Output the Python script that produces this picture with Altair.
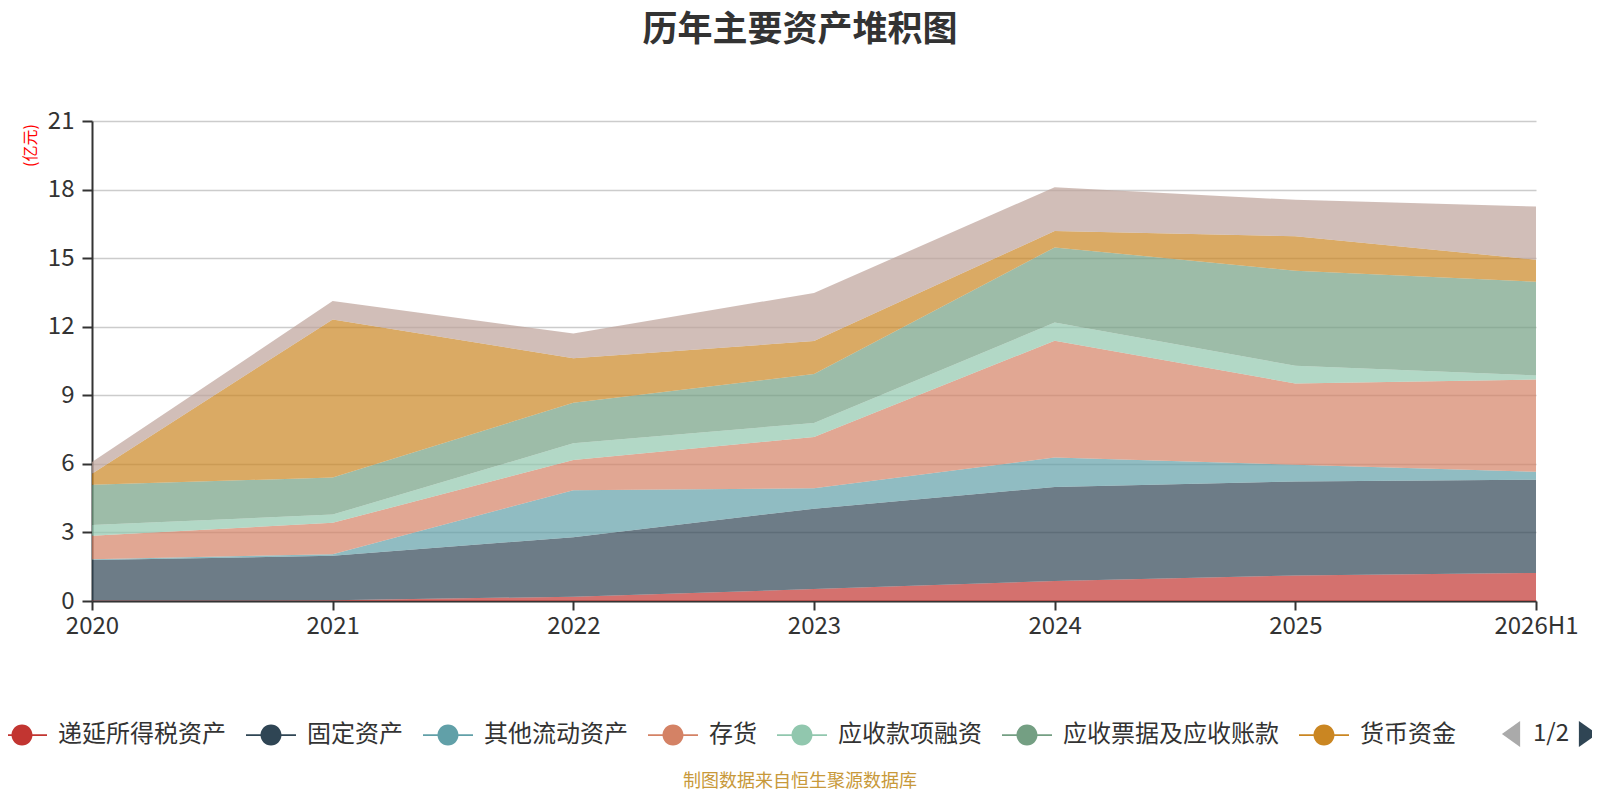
import altair as alt
import pandas as pd

years = ["2020", "2021", "2022", "2023", "2024", "2025", "2026H1"]
names = ["递延所得税资产", "固定资产", "其他流动资产", "存货", "应收款项融资",
         "应收票据及应收账款", "货币资金", "其他"]
colors = ["#c23531", "#2f4554", "#61a0a8", "#d48265", "#91c7ae",
          "#749f83", "#ca8622", "#bda29a"]

deferred_tax = [0.02, 0.03, 0.19, 0.52, 0.88, 1.12, 1.23]
fixed_assets = [1.77, 1.95, 2.60, 3.52, 4.11, 4.11, 4.08]
other_current = [0.04, 0.07, 2.06, 0.89, 1.29, 0.73, 0.34]
inventory = [1.03, 1.37, 1.32, 2.24, 5.11, 3.56, 4.04]
receivable_fin = [0.47, 0.36, 0.73, 0.62, 0.79, 0.77, 0.18]
notes_accounts = [1.76, 1.62, 1.77, 2.14, 3.29, 4.16, 4.10]
cash = [0.48, 6.92, 1.95, 1.44, 0.72, 1.51, 0.96]
others = [0.51, 0.80, 1.08, 2.11, 1.91, 1.59, 2.33]

series = [deferred_tax, fixed_assets, other_current, inventory,
          receivable_fin, notes_accounts, cash, others]

y_ticks = [0, 3, 6, 9, 12, 15, 18, 21]
title_text = "历年主要资产堆积图"
unit_text = "(亿元)"
source_text = "制图数据来自恒生聚源数据库"
pager_text = "1/2"

rows = []
for i, (n, vals) in enumerate(zip(names, series)):
    for yr, v in zip(years, vals):
        rows.append({"name": n, "year": yr, "value": v, "idx": i})
df = pd.DataFrame(rows)

FONT = "Noto Sans CJK SC"
W, H = 1444, 480
LEFT, TOP = 84, 113
RIGHT = 1584 - LEFT - W
BOTTOM = 784 - TOP - H

legend_symbol = ("M-1,-0.035H1V0.035H-1Z "
                 "M-0.42,0A0.42,0.42,0,1,1,0.42,0A0.42,0.42,0,1,1,-0.42,0Z")

area = alt.Chart(df).mark_area(opacity=0.7, interpolate="linear").encode(
    x=alt.X("year:N", sort=years,
            scale=alt.Scale(type="point", padding=0),
            axis=alt.Axis(title=None, labelAngle=0, labelFontSize=24,
                          labelColor="#333", labelFont=FONT,
                          tickSize=9, tickColor="#333", tickWidth=2,
                          labelPadding=4, domainColor="#333",
                          domainWidth=2, grid=False)),
    y=alt.Y("value:Q", stack="zero",
            scale=alt.Scale(domain=[0, 21], nice=False),
            axis=alt.Axis(values=y_ticks, title=unit_text,
                          titleColor="#ff0000", titleFontSize=16,
                          titleFont=FONT, titleFontWeight="normal",
                          titleAngle=270, titleX=-62, titleY=24,
                          titleAlign="center", titleBaseline="middle",
                          labelFontSize=24, labelColor="#333",
                          labelFont=FONT, labelPadding=8,
                          tickSize=10, tickColor="#333", tickWidth=2,
                          domainColor="#333", domainWidth=2,
                          gridColor="#cccccc", gridWidth=1.5)),
    color=alt.Color("name:N", sort=names,
                    scale=alt.Scale(domain=names, range=colors),
                    legend=alt.Legend(orient="none", legendX=-95,
                                      legendY=589, direction="horizontal",
                                      columns=7, values=names[:7],
                                      symbolType=legend_symbol,
                                      symbolSize=2500, symbolOpacity=1,
                                      symbolStrokeWidth=0,
                                      labelFontSize=24, labelColor="#333",
                                      labelFont=FONT, labelOffset=11,
                                      columnPadding=20, labelLimit=400,
                                      title=None, padding=0)),
    order=alt.Order("idx:Q", sort="ascending"),
)

pager_df = pd.DataFrame({"t": [pager_text]})
left_tri = alt.Chart(pager_df).mark_point(
    shape="M0.7,-1L-0.7,0L0.7,1Z", filled=True, size=676,
    color="#aaaaaa", opacity=1, strokeWidth=0
).encode(x=alt.value(1419), y=alt.value(613))
right_tri = alt.Chart(pager_df).mark_point(
    shape="M-0.7,-1L0.7,0L-0.7,1Z", filled=True, size=676,
    color="#2f4554", opacity=1, strokeWidth=0
).encode(x=alt.value(1496), y=alt.value(613))
pager = alt.Chart(pager_df).mark_text(
    align="left", baseline="middle", fontSize=24, color="#333", font=FONT
).encode(x=alt.value(1441), y=alt.value(613), text="t:N")

src_df = pd.DataFrame({"t": [source_text]})
source = alt.Chart(src_df).mark_text(
    align="center", baseline="middle", fontSize=18, color="#c8993a", font=FONT
).encode(x=alt.value(708), y=alt.value(661), text="t:N")

chart = alt.layer(area, left_tri, right_tri, pager, source).properties(
    width=W, height=H,
    background="white",
    padding={"left": LEFT, "top": TOP, "right": RIGHT, "bottom": BOTTOM},
    autosize=alt.AutoSizeParams(type="none"),
    title=alt.TitleParams(text=title_text, fontSize=35, font=FONT,
                          fontWeight="bold", color="#333333",
                          anchor="middle", dx=-14, offset=61),
).configure_view(stroke=None)

chart.save("out.html", embed_options={"renderer": "svg", "actions": False})
